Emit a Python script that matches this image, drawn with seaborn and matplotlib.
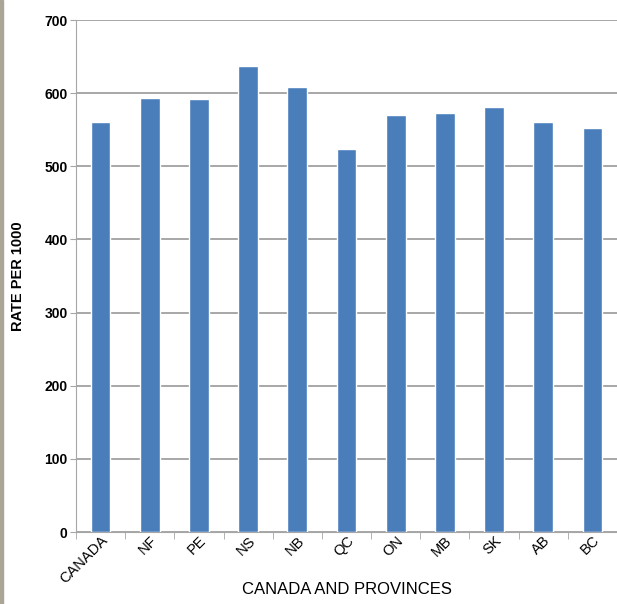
import matplotlib
matplotlib.use("Agg")
import matplotlib.pyplot as plt
import seaborn as sns
import pandas as pd
import numpy as np
from matplotlib.patches import Rectangle

# Data
regions = ['CANADA', 'NF', 'PE', 'NS', 'NB', 'QC', 'ON', 'MB', 'SK', 'AB', 'BC']
rates = [560, 594, 592, 637, 609, 523, 570, 573, 581, 560, 552]
y_ticks = [0, 100, 200, 300, 400, 500, 600, 700]

df = pd.DataFrame({'region': regions, 'rate': rates})

sns.set_style('white')
plt.rcParams['font.family'] = ['Liberation Sans', 'DejaVu Sans']
narrow = ['Liberation Sans Narrow', 'Liberation Sans']

fig = plt.figure(figsize=(6.17, 6.04), dpi=100)
ax = fig.add_axes([76 / 617, 72 / 604, 541 / 617, 512 / 604])

sns.barplot(data=df, x='region', y='rate', color='#4a7ebb', width=0.4,
            saturation=1, ax=ax)

ax.set_ylim(0, 700)
ax.set_xlim(-0.5, len(regions) - 0.5)
ax.set_yticks(y_ticks)
ax.set_yticklabels([str(v) for v in y_ticks], fontsize=10, fontweight='bold', color='black')
ax.yaxis.grid(True, color='#a0a0a0', linewidth=1.3)
ax.set_axisbelow(True)

# category boundary ticks
ax.set_xticks(np.arange(-0.5, len(regions)), minor=True)
ax.tick_params(axis='x', which='minor', length=5, color='#a6a6a6', direction='out', bottom=True)
ax.tick_params(axis='x', which='major', length=0, pad=1)
ax.tick_params(axis='y', length=4, color='#a6a6a6', left=True, pad=2)
ax.set_xticks(range(len(regions)))
ax.set_xticklabels(regions, rotation=45, ha='right', rotation_mode='anchor',
                   fontsize=10.5, color='black', family=narrow)

for side in ['top', 'right']:
    ax.spines[side].set_visible(False)
ax.spines['left'].set_color('#a6a6a6')
ax.spines['bottom'].set_color('#a6a6a6')

ax.set_xlabel('CANADA AND PROVINCES', fontsize=12, color='black', family=narrow,
              va='center')
ax.xaxis.set_label_coords(0.5, -0.113)
ax.set_ylabel('RATE PER 1000', fontsize=10.5, fontweight='bold', labelpad=14,
              color='black')

# grey strip on the left edge
fig.patches.append(Rectangle((0, 0), 3 / 617, 1, transform=fig.transFigure,
                             color='#aaa596', zorder=0))

fig.savefig('out.png', dpi=100)
plt.close(fig)
